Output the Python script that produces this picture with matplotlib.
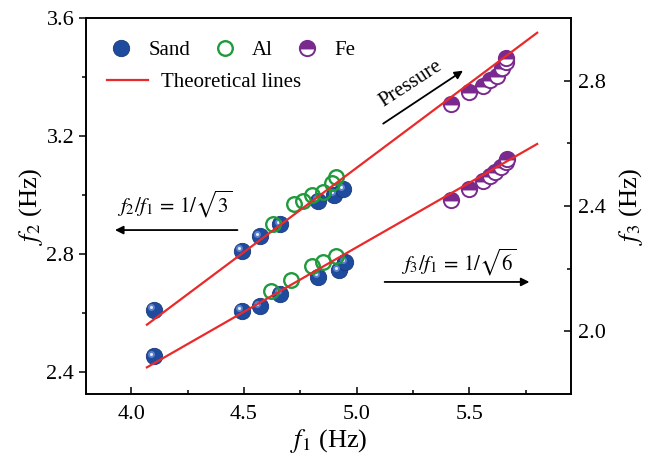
import numpy as np
import matplotlib
matplotlib.use('Agg')
import matplotlib.pyplot as plt
from matplotlib.lines import Line2D
from matplotlib.transforms import offset_copy

plt.rcParams['font.family'] = ['Liberation Serif', 'DejaVu Serif']
plt.rcParams['mathtext.fontset'] = 'stix'

# f2 branch (left axis)
sand_f1_a = [4.10, 4.49, 4.57, 4.66, 4.83, 4.90, 4.94]
sand_f2 = [2.61, 2.81, 2.86, 2.90, 2.98, 3.00, 3.02]
al_f1_a = [4.63, 4.72, 4.76, 4.80, 4.85, 4.89, 4.91]
al_f2 = [2.90, 2.97, 2.98, 3.00, 3.01, 3.04, 3.06]
fe_f1_a = [5.42, 5.50, 5.56, 5.59, 5.62, 5.645, 5.66, 5.66]
fe_f2 = [3.31, 3.35, 3.37, 3.39, 3.405, 3.43, 3.45, 3.465]

# f3 branch (right axis)
sand_f1_b = [4.10, 4.49, 4.57, 4.66, 4.83, 4.92, 4.95]
sand_f3 = [1.92, 2.065, 2.08, 2.12, 2.175, 2.195, 2.22]
al_f1_b = [4.62, 4.71, 4.80, 4.85, 4.91]
al_f3 = [2.13, 2.165, 2.21, 2.22, 2.24]
fe_f1_b = [5.42, 5.50, 5.56, 5.59, 5.615, 5.64, 5.66, 5.665]
fe_f3 = [2.42, 2.455, 2.48, 2.495, 2.51, 2.525, 2.54, 2.55]

# theoretical lines
line_f1 = [4.07, 5.80]
line_f2 = [2.56, 3.55]
line_f3 = [1.885, 2.598]

BLUE = '#1f4b9e'
GREEN = '#1f9a3c'
PURPLE = '#7a2a8e'
RED = '#ea2a2a'

fig = plt.figure(figsize=(6.51, 4.59), dpi=100)
ax = fig.add_axes([86 / 651, 65 / 459, 485 / 651, 376 / 459])
ax2 = ax.twinx()


def sand(a, x, y):
    a.plot(x, y, 'o', ms=11.8, color=BLUE, mec='#17387a', mew=0.6, zorder=3)
    hl = offset_copy(a.transData, fig=fig, x=-2.5, y=2.5, units='dots')
    a.plot(x, y, 'o', ms=5, color='#5b80cc', mew=0, zorder=3.1, transform=hl)
    a.plot(x, y, 'o', ms=2.2, color='#e6ecf8', mew=0, zorder=3.2, transform=hl)


def al(a, x, y):
    a.plot(x, y, 'o', ms=10.5, mfc='none', mec=GREEN, mew=1.7, zorder=4)


def fe(a, x, y):
    a.plot(x, y, 'o', ms=11, fillstyle='top', color=PURPLE, mfc=PURPLE,
           mfcalt='white', mec=PURPLE, mew=1.4, zorder=4)


sand(ax, sand_f1_a, sand_f2)
al(ax, al_f1_a, al_f2)
fe(ax, fe_f1_a, fe_f2)
ax.plot(line_f1, line_f2, color=RED, lw=1.6, zorder=5)

sand(ax2, sand_f1_b, sand_f3)
al(ax2, al_f1_b, al_f3)
fe(ax2, fe_f1_b, fe_f3)
ax2.plot(line_f1, line_f3, color=RED, lw=1.6, zorder=5)

ax.set_xlim(3.8, 5.95)
ax.set_ylim(2.325, 3.6)
ax2.set_ylim(1.8, 3.0)
ax.set_xticks([4.0, 4.5, 5.0, 5.5])
ax.set_xticks([4.25, 4.75, 5.25, 5.75], minor=True)
ax.set_yticks([2.4, 2.8, 3.2, 3.6])
ax.set_yticks([2.6, 3.0, 3.4], minor=True)
ax2.set_yticks([2.0, 2.4, 2.8])
ax2.set_yticks([2.2, 2.6], minor=True)
fmt = matplotlib.ticker.FormatStrFormatter('%.1f')
ax.xaxis.set_major_formatter(fmt)
ax.yaxis.set_major_formatter(fmt)
ax2.yaxis.set_major_formatter(fmt)

ax.tick_params(axis='x', which='both', direction='in', labelsize=16, pad=8)
ax.tick_params(axis='y', which='both', direction='out', labelsize=16)
ax2.tick_params(axis='y', which='both', direction='in', labelsize=16, pad=5)
for a in (ax, ax2):
    a.tick_params(which='major', length=5, width=1.1)
    a.tick_params(which='minor', length=3, width=1.1)
    for s in a.spines.values():
        s.set_linewidth(1.2)

ax.set_xlabel('$f_1$ (Hz)', fontsize=19, labelpad=2)
ax.set_ylabel('$f_2$ (Hz)', fontsize=19, labelpad=1)
ax2.set_ylabel('$f_3$ (Hz)', fontsize=19, labelpad=8)

# legend
h_sand = Line2D([], [], ls='none', marker='o', ms=11.8, color=BLUE, mec='#17387a', mew=0.6)
h_al = Line2D([], [], ls='none', marker='o', ms=10.5, mfc='none', mec=GREEN, mew=1.7)
h_fe = Line2D([], [], ls='none', marker='o', ms=11, fillstyle='top', color=PURPLE,
              mfcalt='white', mec=PURPLE, mew=1.4)
h_line = Line2D([], [], color=RED, lw=1.6)
leg1 = ax2.legend([h_sand, h_al, h_fe], ['Sand', 'Al', 'Fe'], ncol=3, frameon=False,
                  loc='upper left', bbox_to_anchor=(0.0, 0.99), fontsize=15,
                  handletextpad=0.5, columnspacing=0.85, handlelength=1.6)
ax2.add_artist(leg1)
ax2.legend([h_line], ['Theoretical lines'], frameon=False, loc='upper left',
           bbox_to_anchor=(0.005, 0.905), fontsize=15, handlelength=1.95, handletextpad=0.65)

# annotations
ax.text(0.184, 0.503, r'$f_2/f_1\,=\,1/\sqrt{3}$', transform=ax.transAxes,
        ha='center', va='center', fontsize=15)
ax.annotate('', xy=(0.054, 0.436), xytext=(0.318, 0.436), xycoords='axes fraction',
            arrowprops=dict(arrowstyle='-|>', color='k', lw=1.3, mutation_scale=12))
ax.text(0.769, 0.351, r'$f_3/f_1\,=\,1/\sqrt{6}$', transform=ax.transAxes,
        ha='center', va='center', fontsize=15)
ax.annotate('', xy=(0.920, 0.298), xytext=(0.610, 0.298), xycoords='axes fraction',
            arrowprops=dict(arrowstyle='-|>', color='k', lw=1.3, mutation_scale=12))
ax.annotate('', xy=(0.782, 0.864), xytext=(0.608, 0.715), xycoords='axes fraction',
            arrowprops=dict(arrowstyle='-|>', color='k', lw=1.3, mutation_scale=12))
ax.text(0.670, 0.825, 'Pressure', transform=ax.transAxes, ha='center', va='center',
        rotation=33, fontsize=15)

fig.savefig('out.png', dpi=100)
